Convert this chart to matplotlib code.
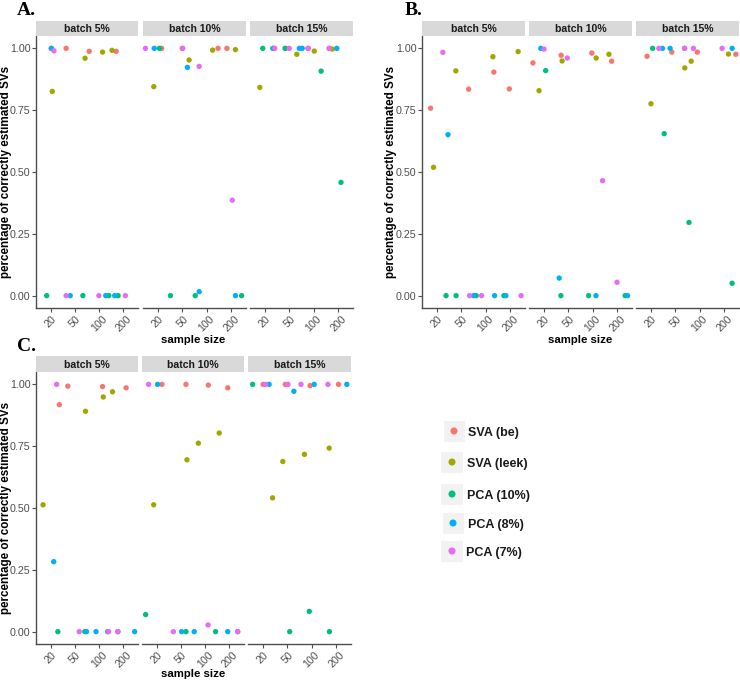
import matplotlib
if matplotlib.get_backend() != 'agg':
    matplotlib.use('agg')
import matplotlib.pyplot as plt

plt.rcParams['font.family'] = ['Liberation Sans', 'DejaVu Sans']

W, H = 740, 681

methods = ['SVA (be)', 'SVA (leek)', 'PCA (10%)', 'PCA (8%)', 'PCA (7%)']
colors = ['#F8766D', '#A3A500', '#00BF7D', '#00B0F6', '#E76BF3']
facets = ['batch 5%', 'batch 10%', 'batch 15%']
sizes = ['20', '50', '100', '200']
yticks = [0, 0.25, 0.5, 0.75, 1.0]

# jittered x (1..4 = sample size slot), 4 points per facet, facets 5% | 10% | 15%
A_x = {
    'SVA (be)':   [1.02, 1.64, 2.59, 3.70,  1.16, 2.00, 3.46, 3.82,  1.36, 1.85, 2.78, 3.64],
    'SVA (leek)': [1.07, 2.42, 3.14, 3.53,  0.84, 2.28, 3.24, 4.17,  0.80, 2.31, 3.02, 3.76],
    'PCA (10%)':  [0.84, 2.33, 3.40, 3.78,  1.07, 1.52, 2.53, 4.42,  0.92, 1.83, 3.30, 4.11],
    'PCA (8%)':   [1.04, 1.81, 3.27, 3.64,  0.86, 2.21, 2.69, 4.17,  1.33, 2.41, 2.53, 3.94],
    'PCA (7%)':   [1.14, 1.64, 2.99, 4.08,  0.50, 2.02, 2.69, 4.04,  1.41, 2.00, 2.76, 3.62],
}
A_y = {
    'SVA (be)':   [1.00, 1.00, 0.988, 0.988,  1.00, 1.00, 1.00, 1.00,  1.00, 1.00, 1.00, 1.00],
    'SVA (leek)': [0.826, 0.96, 0.985, 0.992,  0.845, 0.953, 0.993, 0.995,  0.842, 0.976, 0.989, 0.997],
    'PCA (10%)':  [0.0, 0.0, 0.0, 0.0,  1.00, 0.0, 0.0, 0.0,  1.00, 1.00, 0.908, 0.458],
    'PCA (8%)':   [1.00, 0.0, 0.0, 0.0,  1.00, 0.923, 0.016, 0.0,  1.00, 1.00, 1.00, 1.00],
    'PCA (7%)':   [0.99, 0.0, 0.0, 0.0,  1.00, 1.00, 0.927, 0.386,  1.00, 1.00, 1.00, 1.00],
}

B_x = {
    'SVA (be)':   [0.75, 2.30, 3.33, 3.96,  0.56, 1.71, 2.96, 3.77,  0.85, 1.86, 2.90, 4.47],
    'SVA (leek)': [0.87, 1.78, 3.29, 4.32,  0.81, 1.75, 3.14, 3.66,  1.01, 2.39, 2.65, 4.17],
    'PCA (10%)':  [1.38, 1.79, 2.61, 3.74,  1.08, 1.70, 2.83, 4.32,  1.08, 1.55, 2.56, 4.32],
    'PCA (8%)':   [1.46, 2.50, 3.36, 3.82,  0.88, 1.63, 3.13, 4.42,  1.48, 1.79, 2.38, 4.32],
    'PCA (7%)':   [1.25, 2.34, 2.83, 4.44,  1.01, 1.96, 3.40, 3.99,  1.33, 2.38, 2.74, 3.91],
}
B_y = {
    'SVA (be)':   [0.758, 0.835, 0.904, 0.836,  0.941, 0.972, 0.981, 0.948,  0.968, 0.985, 0.985, 0.976],
    'SVA (leek)': [0.519, 0.909, 0.966, 0.987,  0.829, 0.949, 0.961, 0.976,  0.776, 0.921, 0.948, 0.977],
    'PCA (10%)':  [0.0, 0.0, 0.0, 0.0,  0.91, 0.0, 0.0, 0.0,  1.00, 0.655, 0.296, 0.05],
    'PCA (8%)':   [0.651, 0.0, 0.0, 0.0,  1.00, 0.071, 0.0, 0.0,  1.00, 1.00, 1.00, 1.00],
    'PCA (7%)':   [0.984, 0.0, 0.0, 0.0,  0.997, 0.961, 0.465, 0.054,  1.00, 1.00, 1.00, 1.00],
}

C_x = {
    'SVA (be)':   [1.36, 1.71, 3.14, 4.11,  1.22, 2.21, 3.13, 3.93,  1.02, 1.92, 2.93, 4.09],
    'SVA (leek)': [0.69, 2.44, 3.17, 3.55,  0.88, 2.25, 2.72, 3.58,  1.40, 1.82, 2.70, 3.71],
    'PCA (10%)':  [1.30, 2.41, 3.35, 3.77,  0.55, 2.21, 3.43, 4.34,  0.59, 2.10, 2.90, 3.72],
    'PCA (8%)':   [1.13, 2.48, 2.87, 4.46,  1.04, 2.03, 2.55, 3.93,  1.26, 2.27, 3.10, 4.43],
    'PCA (7%)':   [1.25, 2.18, 3.39, 3.77,  0.67, 1.69, 3.12, 4.34,  1.11, 2.03, 2.56, 3.66],
}
C_y = {
    'SVA (be)':   [0.918, 0.993, 0.991, 0.986,  1.00, 1.00, 0.997, 0.986,  1.00, 1.00, 0.995, 1.00],
    'SVA (leek)': [0.513, 0.891, 0.949, 0.970,  0.513, 0.695, 0.762, 0.803,  0.541, 0.688, 0.717, 0.742],
    'PCA (10%)':  [0.0, 0.0, 0.0, 0.0,  0.069, 0.0, 0.0, 0.0,  1.00, 0.0, 0.082, 0.0],
    'PCA (8%)':   [0.283, 0.0, 0.0, 0.0,  1.00, 0.0, 0.0, 0.0,  1.00, 0.972, 1.00, 1.00],
    'PCA (7%)':   [1.00, 0.0, 0.0, 0.0,  1.00, 0.0, 0.027, 0.0,  1.00, 1.00, 1.00, 1.00],
}

AXIS_COL = '#4D4D4D'
STRIP_COL = '#D9D9D9'


def px_axes(fig, l, t, r, b):
    return fig.add_axes([l / W, 1 - b / H, (r - l) / W, (b - t) / H])


def draw_panel(fig, xs, ys, cols, top, bottom, strip_h, label, label_xy,
               ylab_x, xlab_xy):
    for k, (l, r) in enumerate(cols):
        ax = px_axes(fig, l, top, r, bottom)
        for m, c in zip(methods, colors):
            ax.scatter(xs[m][4 * k:4 * k + 4], ys[m][4 * k:4 * k + 4],
                       s=15, color=c, edgecolors='none', zorder=3, clip_on=False)
        ax.set_xlim(0.4, 4.6)
        ax.set_ylim(-0.05, 1.05)
        ax.set_xticks(range(1, 5))
        ax.set_xticklabels(sizes, rotation=45, fontsize=7.7, color=AXIS_COL)
        for s in ['top', 'right']:
            ax.spines[s].set_visible(False)
        ax.spines['bottom'].set_color(AXIS_COL)
        ax.spines['bottom'].set_linewidth(1.0)
        ax.tick_params(axis='x', length=3, width=0.8, color=AXIS_COL, pad=1)
        if k == 0:
            ax.set_yticks(yticks)
            ax.set_yticklabels(['%.2f' % v for v in yticks], fontsize=7.7,
                               color=AXIS_COL)
            ax.spines['left'].set_color(AXIS_COL)
            ax.spines['left'].set_linewidth(1.0)
            ax.tick_params(axis='y', length=3, width=0.8, color=AXIS_COL, pad=0.8)
        else:
            ax.spines['left'].set_visible(False)
            ax.set_yticks([])
        st = px_axes(fig, l, top - strip_h, r, top)
        st.set_facecolor(STRIP_COL)
        st.set_xticks([])
        st.set_yticks([])
        for s in st.spines.values():
            s.set_visible(False)
        st.text(0.5, 0.45, facets[k], ha='center', va='center',
                fontsize=7.6, fontweight='bold', color='#1A1A1A',
                transform=st.transAxes)

    fig.text(label_xy[0] / W, 1 - label_xy[1] / H, label, fontsize=14,
             fontweight='bold', family=['Liberation Serif', 'DejaVu Serif'],
             ha='left', va='baseline')
    fig.text(ylab_x / W, 1 - (top + bottom) / 2 / H,
             'percentage of correctly estimated SVs', rotation=90,
             ha='center', va='center', fontsize=8.4, fontweight='bold')
    fig.text(xlab_xy[0] / W, 1 - xlab_xy[1] / H, 'sample size',
             ha='center', va='center', fontsize=8.2, fontweight='bold')


fig = plt.figure(figsize=(W / 100, H / 100), dpi=100)

draw_panel(fig, A_x, A_y, [(36, 138), (143, 246), (250, 353)], 36, 308, 15,
           'A.', (17, 15), 6, (193, 340))
draw_panel(fig, B_x, B_y, [(422, 525), (529, 632), (636, 739)], 36, 308, 15,
           'B.', (405, 15), 391, (580, 340))
draw_panel(fig, C_x, C_y, [(36, 138), (142, 244), (248, 351)], 372, 644, 16,
           'C.', (17, 351), 6, (193, 674))

# hand-placed legend boxes
leg_rows = [(454, 431, 468), (452, 462, 467), (452, 494, 467),
            (453, 523, 468), (452, 551, 466)]
for (kx, ky, tx), m, c in zip(leg_rows, methods, colors):
    kax = px_axes(fig, kx - 10.5, ky - 10.5, kx + 10.5, ky + 10.5)
    kax.set_facecolor('#F2F2F2')
    kax.set_xticks([])
    kax.set_yticks([])
    for s in kax.spines.values():
        s.set_visible(False)
    kax.scatter([0.5], [0.5], s=26, color=c, edgecolors='none')
    kax.set_xlim(0, 1)
    kax.set_ylim(0, 1)
    fig.text(tx / W, 1 - (ky + 2) / H, m, fontsize=9, fontweight='bold',
             ha='left', va='center', color='#1A1A1A')

fig.savefig('out.png', dpi=100)
